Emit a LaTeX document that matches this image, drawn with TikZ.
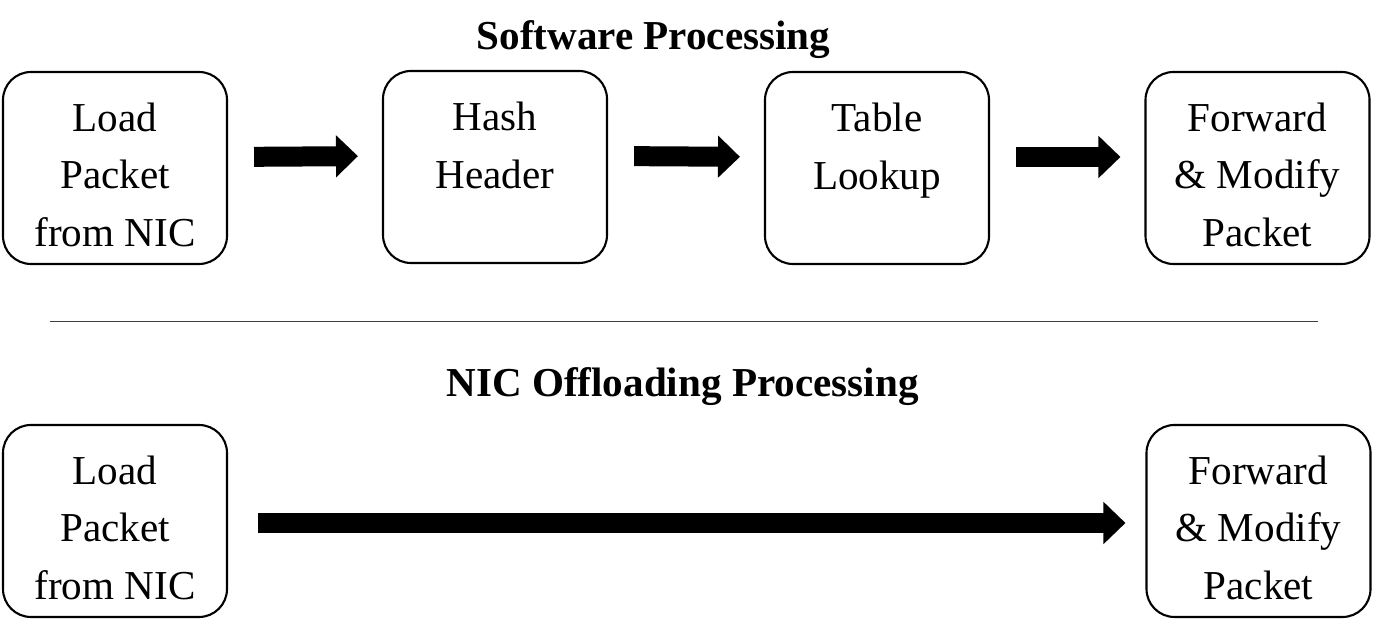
\documentclass[tikz,border=0pt]{standalone}
\usepackage{fontspec}
\setmainfont{Liberation Serif}
\usepackage{xcolor}
\definecolor{ruleGray}{HTML}{404040}
\usetikzlibrary{arrows.meta, positioning, calc}
\newcommand{\toppad}{\rule{0pt}{12pt}}

\begin{document}
\begin{tikzpicture}[
    every node/.style={font=\fontsize{11.7}{16.3}\selectfont},
    stage/.style={draw, rounded corners=2.8mm, line width=0.6pt,
                minimum width=2.24cm, minimum height=1.92cm, inner sep=0pt,
                align=center},
    ttl/.style={font=\fontsize{11.7}{16.3}\selectfont\bfseries, anchor=base},
    flow/.style={line width=2mm, -{Triangle[length=2.2mm, width=4.1mm]},
                shorten <=0.26cm, shorten >=0.24cm}
]
\useasboundingbox (0,0) rectangle (13.77,-6.22);
% Software path
\node[ttl] (swtitle) at (6.535,-0.50) {Software Processing};
\node[stage] (load)   at (1.15,-1.68)   {\toppad Load\\Packet\\from NIC};
\node[stage] (hash)   at (4.95,-1.67)   {\toppad Hash\\Header\\~};
\node[stage] (lookup) at (8.77,-1.68)   {\toppad Table\\Lookup\\~};
\node[stage] (fwd)    at (12.575,-1.68) {\toppad Forward\\\& Modify\\Packet};
% Separator
\draw[ruleGray, line width=0.5pt] (0.50,-3.215) -- (13.18,-3.215);
% Offloaded path
\node[ttl] (nictitle) at (6.825,-3.97) {NIC Offloading Processing};
\node[stage] (nicload) at (1.15,-5.21)   {\toppad Load\\Packet\\from NIC};
\node[stage] (nicfwd)  at (12.585,-5.21) {\toppad Forward\\\& Modify\\Packet};
% Arrows
\draw[flow] ([yshift=1.1mm]load.east)   -- ([yshift=1.1mm]hash.west);
\draw[flow] ([yshift=1.1mm]hash.east)   -- ([yshift=1.1mm]lookup.west);
\draw[flow] ([yshift=1.1mm]lookup.east) -- ([yshift=1.1mm]fwd.west);
\draw[flow, shorten <=0.30cm, shorten >=0.20cm]
    ([yshift=-0.2mm]nicload.east) -- ([yshift=-0.2mm]nicfwd.west);
\end{tikzpicture}
\end{document}
